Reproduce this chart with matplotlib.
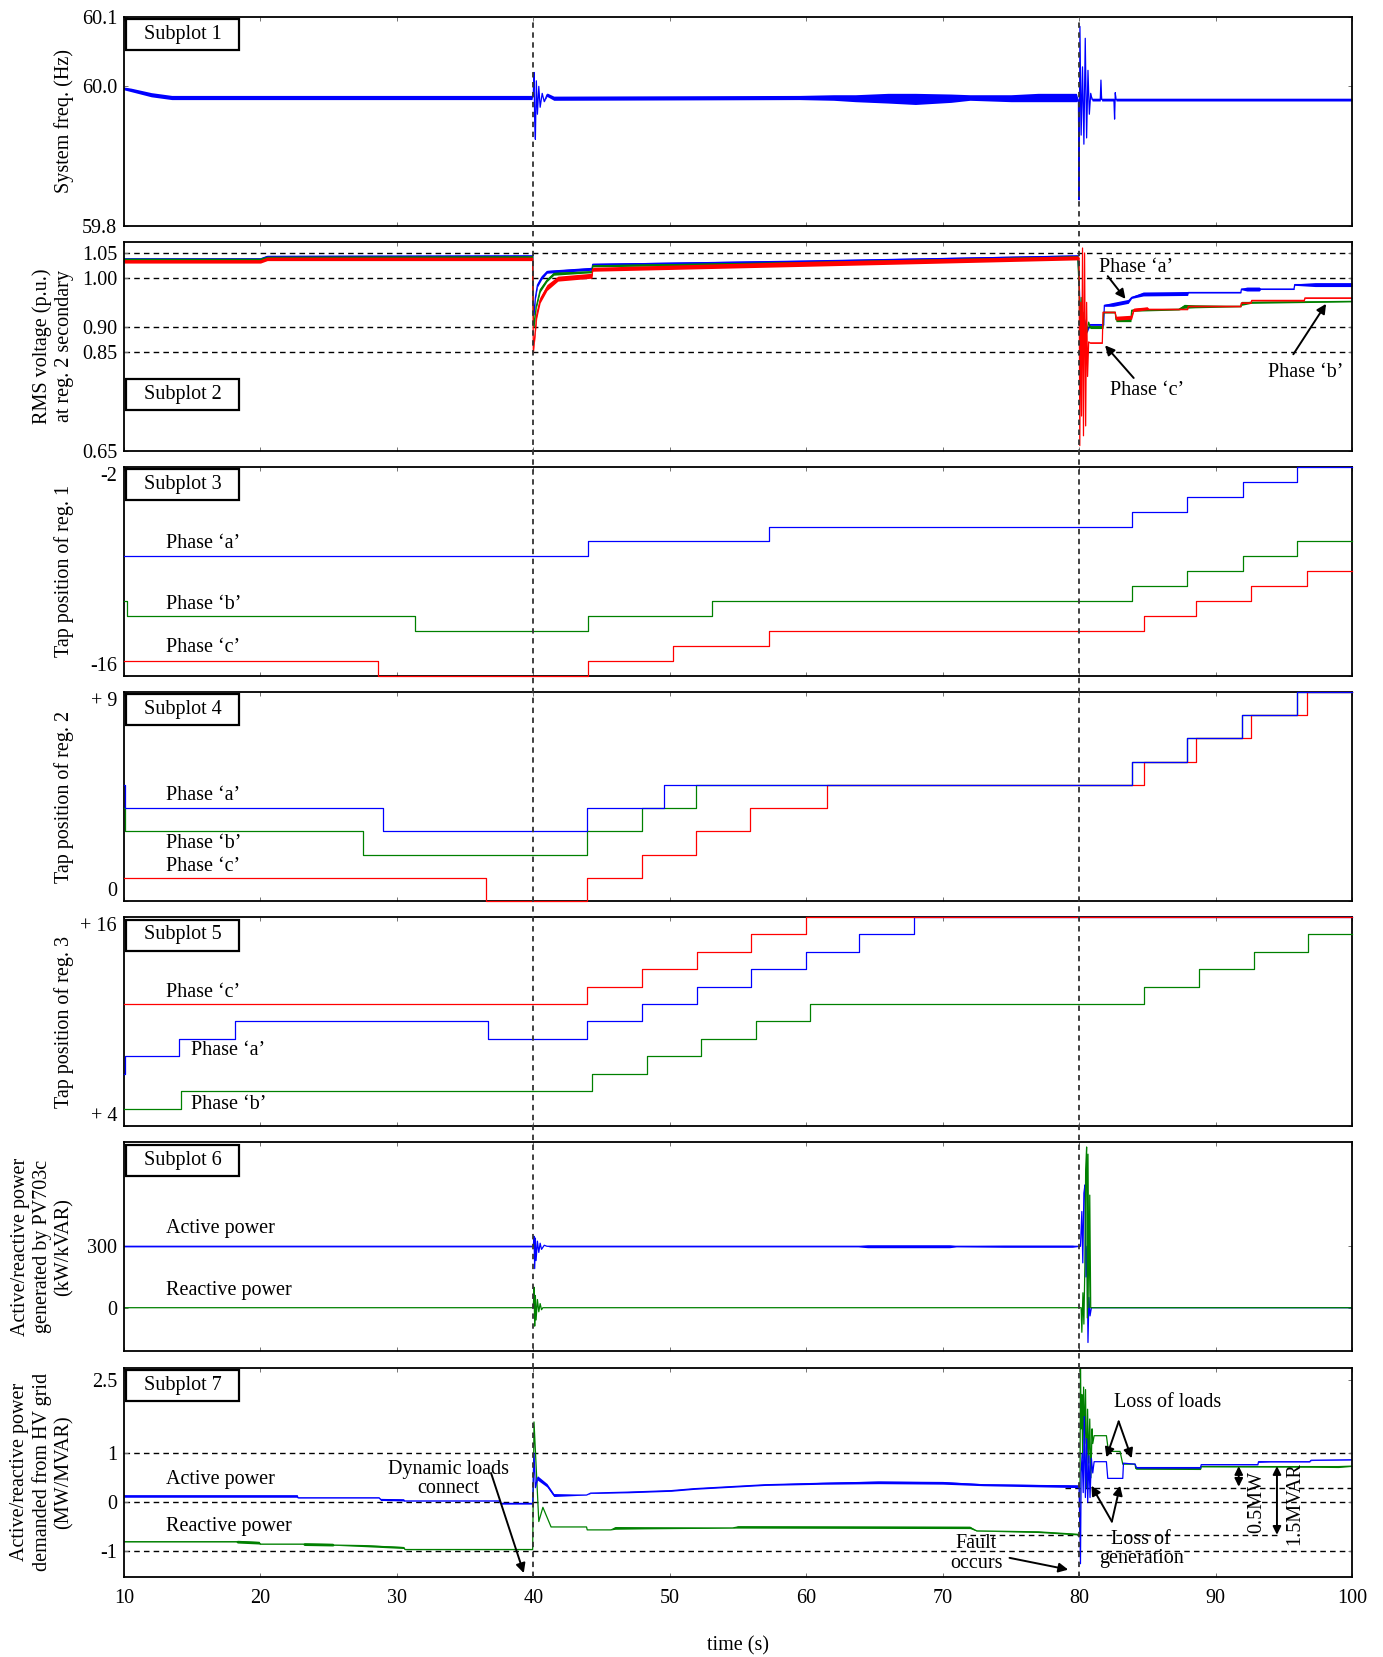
import numpy as np
import matplotlib
matplotlib.use('Agg')
import matplotlib.pyplot as plt
from matplotlib.patches import Rectangle
from matplotlib.lines import Line2D
import matplotlib.transforms as mtrans

plt.rcParams['font.family'] = ['Liberation Serif', 'DejaVu Serif']
plt.rcParams['font.size'] = 14.5

BLUE, GREEN, RED = '#0000ff', '#008000', '#ff0000'

# ---------------- data ----------------
event_times = [40, 80]
x_ticks = list(range(10, 101, 10))

# Subplot 1: system frequency (t, value, noise half-width)
freq = [(10, 59.997, .002), (10.5, 59.995, .0025), (12, 59.988, .003), (13.5, 59.984, .003),
        (39.9, 59.984, .003), (40.0, 59.99, 0), (40.05, 60.020, 0), (40.1, 59.95, 0),
        (40.15, 59.924, 0), (40.22, 60.008, 0), (40.3, 59.96, 0), (40.4, 60.0, 0),
        (40.5, 59.97, 0), (40.65, 59.99, 0), (40.8, 59.978, 0), (41.0, 59.988, .0025),
        (41.5, 59.983, .003), (59.5, 59.984, .003), (62, 59.984, .004), (63.6, 59.983, .005),
        (66, 59.983, .007), (68, 59.982, .008), (70.6, 59.983, .006), (72, 59.984, .004),
        (75, 59.983, .005), (77, 59.984, .006), (79.8, 59.984, .006), (79.95, 59.98, 0),
        (80.0, 59.837, 0), (80.06, 60.086, 0), (80.15, 59.93, 0), (80.25, 60.028, 0),
        (80.35, 59.917, 0), (80.45, 60.069, 0), (80.55, 59.926, 0), (80.65, 60.023, 0),
        (80.75, 59.96, 0), (80.85, 59.99, 0), (80.95, 59.981, .002), (81.55, 59.981, .002),
        (81.6, 60.009, 0), (81.65, 59.981, .002), (82.55, 59.981, .002), (82.6, 59.953, 0),
        (82.65, 59.991, 0), (82.7, 59.981, .002), (100, 59.981, .002)]

# Subplot 2: RMS voltage at reg. 2 secondary (t, value, noise half-width)
volt_a = [(10, 1.038, .002), (20, 1.038, .002), (20.5, 1.043, .002), (39.95, 1.044, .002),
          (40.0, 0.95, 0), (40.05, 0.925, .004), (40.15, 0.96, .004), (40.3, 0.985, .004),
          (40.6, 1.0, .004), (41.0, 1.012, .003), (44.3, 1.018, .003), (44.35, 1.027, .002),
          (60, 1.033, .003), (79.9, 1.044, .002), (80.0, 1.00, 0), (80.05, 0.95, 0),
          (80.1, 0.88, 0), (80.2, 0.93, 0), (80.3, 0.87, 0), (80.4, 0.915, 0), (80.6, 0.89, 0),
          (80.8, 0.905, .0015), (81.8, 0.905, .0015), (81.85, 0.944, .002), (82.5, 0.946, .004),
          (83.6, 0.952, .004), (83.85, 0.96, .002), (84.7, 0.967, .004), (87.95, 0.968, .004),
          (88.0, 0.970, .001), (91.85, 0.970, .001), (91.9, 0.977, .0015), (92.3, 0.977, .004),
          (93.2, 0.977, .004), (93.3, 0.977, .001), (95.75, 0.977, .001), (95.8, 0.986, .0015),
          (97.3, 0.986, .004), (100, 0.986, .004)]
volt_b = [(10, 1.037, .002), (20, 1.037, .002), (20.5, 1.041, .002), (39.95, 1.042, .002),
          (40.0, 0.93, 0), (40.05, 0.90, .003), (40.2, 0.94, .004), (40.5, 0.975, .004),
          (41.0, 0.995, .003), (41.5, 1.008, .003), (44.3, 1.012, .002), (44.35, 1.024, .002),
          (60, 1.030, .003), (79.9, 1.042, .002), (80.0, 0.98, 0), (80.05, 0.90, 0),
          (80.15, 0.96, 0), (80.25, 0.86, 0), (80.35, 0.93, 0), (80.5, 0.88, 0), (80.7, 0.91, 0),
          (80.8, 0.90, .003), (81.75, 0.90, .003), (81.8, 0.93, .0015), (82.65, 0.93, .0015),
          (82.7, 0.915, .004), (83.8, 0.915, .004), (83.85, 0.934, .002), (87.3, 0.936, .0015),
          (87.7, 0.942, .004), (88.5, 0.942, .003), (91.85, 0.942, .001), (91.9, 0.948, .004),
          (92.6, 0.950, .002), (100, 0.952, .001)]
volt_c = [(10, 1.033, .0035), (20, 1.033, .0035), (20.5, 1.038, .0035), (39.95, 1.038, .0035),
          (40.0, 0.848, 0), (40.1, 0.88, .007), (40.25, 0.925, .007), (40.5, 0.955, .006),
          (41.0, 0.98, .006), (41.8, 0.998, .005), (44.3, 1.004, .005), (44.35, 1.017, .004),
          (60, 1.028, .005), (79.9, 1.040, .004), (80.0, 1.04, 0), (80.05, 0.66, 0),
          (80.12, 0.95, 0), (80.18, 0.72, 0), (80.25, 1.06, 0), (80.32, 0.68, 0), (80.4, 1.05, 0),
          (80.48, 0.70, 0), (80.55, 0.95, 0), (80.62, 0.80, 0), (80.7, 0.87, 0),
          (80.8, 0.868, .001), (81.7, 0.868, .001), (81.75, 0.93, .001), (82.65, 0.93, .001),
          (82.7, 0.918, .004), (83.85, 0.92, .004), (84.0, 0.935, .0035), (85.0, 0.938, .003),
          (85.1, 0.936, .001), (87.95, 0.936, .001), (88.0, 0.942, .001), (91.85, 0.942, .001),
          (91.9, 0.949, .001), (92.6, 0.949, .001), (92.65, 0.954, .001), (96.5, 0.954, .0015),
          (96.55, 0.959, .001), (100, 0.959, .001)]

# Subplot 3: tap position of reg. 1 (step changes)
tap1_a_t = [10, 44.0, 57.3, 83.9, 87.9, 92.0, 96.0, 100]
tap1_a_v = [-8, -7, -6, -5, -4, -3, -2, -2]
tap1_b_t = [10, 10.2, 31.3, 44.0, 53.1, 83.9, 87.9, 92.0, 96.0, 100]
tap1_b_v = [-11, -12, -13, -12, -11, -10, -9, -8, -7, -7]
tap1_c_t = [10, 28.6, 44.0, 50.2, 57.3, 84.75, 88.6, 92.6, 96.7, 100]
tap1_c_v = [-15, -16, -15, -14, -13, -12, -11, -10, -9, -9]

# Subplot 4: tap position of reg. 2
tap2_a_t = [10, 10.1, 29.0, 43.9, 49.6, 83.9, 87.9, 91.95, 96.0, 100]
tap2_a_v = [5, 4, 3, 4, 5, 6, 7, 8, 9, 9]
tap2_b_t = [10, 10.1, 27.5, 43.9, 48.0, 51.9, 83.9, 87.9, 91.95, 96.0, 100]
tap2_b_v = [4, 3, 2, 3, 4, 5, 6, 7, 8, 9, 9]
tap2_c_t = [10, 36.5, 43.9, 48.0, 51.9, 55.9, 61.5, 84.75, 88.6, 92.6, 96.7, 100]
tap2_c_v = [1, 0, 1, 2, 3, 4, 5, 6, 7, 8, 9, 9]

# Subplot 5: tap position of reg. 3
tap3_a_t = [10, 10.1, 14.0, 18.1, 36.7, 43.9, 47.96, 51.98, 55.93, 59.96, 63.9, 67.9, 100]
tap3_a_v = [7, 8, 9, 10, 9, 10, 11, 12, 13, 14, 15, 16, 16]
tap3_b_t = [10, 14.2, 44.3, 48.3, 52.3, 56.3, 60.3, 84.75, 88.8, 92.8, 96.8, 100]
tap3_b_v = [5, 6, 7, 8, 9, 10, 11, 12, 13, 14, 15, 15]
tap3_c_t = [10, 43.9, 47.96, 51.98, 55.93, 59.96, 100]
tap3_c_v = [11, 12, 13, 14, 15, 16, 16]

# Subplot 6: PV703c active / reactive power (t, value, noise half-width)
pv_p = [(10, 300, 3), (39.9, 300, 3), (40.0, 300, 0), (40.05, 349, 0), (40.1, 191, 0),
        (40.15, 340, 0), (40.2, 230, 0), (40.3, 325, 0), (40.4, 270, 0), (40.5, 315, 0),
        (40.6, 285, 0), (40.8, 305, 0), (41.0, 300, 0), (41.2, 300, 3), (63.8, 300, 3),
        (64.5, 300, 7), (70.5, 300, 7), (71, 300, 3), (74.5, 300, 5), (79.5, 300, 5),
        (80.1, 300, 0), (80.2, 470, 0), (80.27, 219, 0), (80.35, 560, 0), (80.43, 600, 0),
        (80.5, 150, 0), (80.58, 300, 0), (80.65, -170, 0), (80.72, 50, 0), (80.8, -40, 0),
        (80.9, 0, 0), (100, 0, 0)]
pv_q = [(10, 0, 0), (40.0, 0, 0), (40.05, 100, 0), (40.1, -90, 0), (40.15, 60, 0),
        (40.2, -60, 0), (40.3, 40, 0), (40.4, -20, 0), (40.5, 20, 0), (40.6, -10, 0),
        (40.7, 0, 0), (80.15, 0, 0), (80.2, -120, 0), (80.28, 73, 0), (80.35, -80, 0),
        (80.42, 200, 0), (80.48, 674, 0), (80.55, 785, 0), (80.6, -50, 0), (80.65, 750, 0),
        (80.72, 0, 0), (80.78, 550, 0), (80.85, 0, 0), (100, 0, 0)]

# Subplot 7: HV grid active / reactive power (t, value, noise half-width)
grid_p = [(10, 0.13, .025), (22.7, 0.13, .025), (22.75, 0.095, .004), (28.7, 0.095, .004),
          (28.8, 0.06, .02), (30.5, 0.05, .02), (30.55, 0.03, .003), (37.5, 0.03, .003),
          (37.6, -0.02, .015), (39.95, -0.02, .015), (40.05, 1.0, 0), (40.15, 0.3, 0),
          (40.3, 0.5, .045), (41.0, 0.35, .035), (41.5, 0.15, .03), (43.9, 0.15, 0),
          (44.2, 0.19, .007), (47, 0.21, .014), (50.1, 0.24, .014), (51.8, 0.28, .014),
          (57.0, 0.36, .014), (61.2, 0.39, .02), (65.3, 0.41, .028), (70, 0.40, .028),
          (73, 0.36, .02), (79.9, 0.33, .028), (80.0, 0.33, 0), (80.1, -1.25, 0), (80.15, 0.6, 0),
          (80.22, 1.0, 0), (80.3, 0.2, 0), (80.38, 1.75, 0), (80.46, 0.1, 0), (80.55, 1.3, 0),
          (80.63, 0.0, 0), (80.72, 0.95, 0), (80.8, 0.1, 0), (80.9, 0.9, 0), (81.0, 0.6, 0),
          (81.1, 0.83, 0), (82.0, 0.83, 0), (82.1, 0.49, 0), (83.2, 0.49, 0), (83.25, 0.80, 0),
          (84.1, 0.78, 0), (84.2, 0.71, .01), (88.9, 0.71, .01), (88.95, 0.77, .003),
          (93.1, 0.77, .003), (93.15, 0.83, .014), (94.0, 0.83, .004), (96.9, 0.83, .004),
          (97.0, 0.86, .007), (100, 0.87, .004)]
grid_q = [(10, -0.80, .004), (18.2, -0.80, .004), (18.3, -0.80, .028), (19.9, -0.82, .028),
          (20.0, -0.85, .004), (23.1, -0.85, .004), (23.2, -0.85, .028), (25.3, -0.86, .028),
          (25.4, -0.87, .004), (27.5, -0.88, .02), (30.5, -0.92, .02), (30.6, -0.96, .002),
          (39.95, -0.96, .002), (40.05, 1.64, 0), (40.4, -0.39, 0), (40.7, -0.1, 0),
          (41.3, -0.50, 0), (43.9, -0.50, 0), (43.95, -0.56, 0), (45.7, -0.56, 0),
          (46, -0.52, .028), (48.2, -0.52, .02), (54.6, -0.52, .004), (55, -0.50, .024),
          (72, -0.51, .024), (72.5, -0.58, .004), (77, -0.60, .014), (79.9, -0.65, .014),
          (80.05, -0.65, 0), (80.1, 2.75, 0), (80.15, 1.5, 0), (80.2, 2.2, 0), (80.26, 0.9, 0),
          (80.33, 2.35, 0), (80.4, 1.2, 0), (80.47, 2.3, 0), (80.55, 0.3, 0), (80.62, 1.9, 0),
          (80.7, 0.8, 0), (80.78, 1.7, 0), (80.86, 0.5, 0), (80.95, 1.5, 0), (81.0, 1.2, 0),
          (81.1, 1.36, 0), (82.0, 1.36, 0), (82.15, 1.04, 0), (83.0, 1.04, 0), (83.2, 0.78, 0),
          (84.1, 0.78, 0), (84.15, 0.69, .014), (88.9, 0.69, .02), (88.95, 0.73, .004),
          (97, 0.73, .014), (99, 0.73, .02), (100, 0.74, .007)]

# ---------------- figure ----------------
W, H = 1383, 1657
fig = plt.figure(figsize=(W / 100, H / 100), dpi=100)
left_px, width_px, ax_h_px = 124, 1228, 209
tops = [16.7, 241.6, 466.8, 692.0, 917.0, 1142.3, 1367.5]
axes = []
for top in tops:
    ax = fig.add_axes([left_px / W, 1 - (top + ax_h_px) / H, width_px / W, ax_h_px / H],
                      sharex=axes[0] if axes else None)
    axes.append(ax)
ax1, ax2, ax3, ax4, ax5, ax6, ax7 = axes


def trace(ax, pts, color, lw=0.9, z=2):
    t = np.array([p[0] for p in pts], float)
    v = np.array([p[1] for p in pts], float)
    a = np.array([p[2] for p in pts], float)
    if a.max() > 0:
        ax.fill_between(t, v - a, v + a, color=color, lw=0, zorder=z)
    ax.plot(t, v, color=color, lw=lw, zorder=z)


def hdash(ax, y, x0=None, x1=None):
    if x0 is None:
        ax.axhline(y, color='k', lw=1.0, ls=(0, (4, 3)), zorder=1)
    else:
        ax.plot([x0, x1], [y, y], color='k', lw=1.0, ls=(0, (4, 3)), zorder=1)


def box(ax, n, top_off_px=2.5):
    w = 113 / width_px
    h = 31 / ax_h_px
    y0 = 1 - (top_off_px + 31) / ax_h_px
    ax.add_patch(Rectangle((0.002, y0), w, h, transform=ax.transAxes, facecolor='white',
                           edgecolor='k', lw=1.6, zorder=6))
    ax.text(0.002 + w / 2, y0 + h / 2, f'Subplot {n}', transform=ax.transAxes,
            ha='center', va='center', zorder=7)


arrow_kw = dict(arrowstyle='-|>', color='k', lw=1.4, mutation_scale=14, shrinkA=0, shrinkB=0)
darrow_kw = dict(arrowstyle='<|-|>', color='k', lw=1.4, mutation_scale=12, shrinkA=0, shrinkB=0)

# Subplot 1
trace(ax1, freq, BLUE)
ax1.set_ylim(59.8, 60.1)
ax1.set_yticks([59.8, 60.0, 60.1])
ax1.set_yticklabels(['59.8', '60.0', '60.1'])
ax1.set_ylabel('System freq. (Hz)')
box(ax1, 1)

# Subplot 2
for y in [1.05, 1.00, 0.90, 0.85]:
    hdash(ax2, y)
trace(ax2, volt_a, BLUE)
trace(ax2, volt_b, GREEN)
trace(ax2, volt_c, RED)
ax2.set_ylim(0.65, 1.073)
ax2.set_yticks([0.65, 0.85, 0.90, 1.00, 1.05])
ax2.set_yticklabels(['0.65', '0.85', '0.90', '1.00', '1.05'])
ax2.set_ylabel('RMS voltage (p.u.)\nat reg. 2 secondary')
box(ax2, 2, top_off_px=137.7)
ax2.text(84.2, 1.021, 'Phase \u2018a\u2019', ha='center', va='center', zorder=8)
ax2.annotate('', xy=(83.4, 0.957), xytext=(82.1, 1.003), arrowprops=arrow_kw, zorder=8)
ax2.text(85.0, 0.771, 'Phase \u2018c\u2019', ha='center', va='center', zorder=8)
ax2.annotate('', xy=(81.9, 0.863), xytext=(84.0, 0.797), arrowprops=arrow_kw, zorder=8)
ax2.text(96.6, 0.808, 'Phase \u2018b\u2019', ha='center', va='center', zorder=8)
ax2.annotate('', xy=(98.1, 0.947), xytext=(95.7, 0.845), arrowprops=arrow_kw, zorder=8)

# Subplots 3-5
def taps(ax, tv, lw=0.9):
    for t, v, c in tv:
        ax.step(t, v, where='post', color=c, lw=lw, zorder=3, clip_on=False)

taps(ax3, [(tap1_a_t, tap1_a_v, BLUE), (tap1_b_t, tap1_b_v, GREEN), (tap1_c_t, tap1_c_v, RED)])
ax3.set_ylim(-16, -2)
ax3.set_yticks([-16, -2])
ax3.set_yticklabels(['-16', '-2'])
ax3.set_ylabel('Tap position of reg. 1')
box(ax3, 3)
ax3.text(13.1, -7.12, 'Phase \u2018a\u2019', va='center')
ax3.text(13.1, -11.24, 'Phase \u2018b\u2019', va='center')
ax3.text(13.1, -14.08, 'Phase \u2018c\u2019', va='center')

taps(ax4, [(tap2_c_t, tap2_c_v, RED), (tap2_b_t, tap2_b_v, GREEN), (tap2_a_t, tap2_a_v, BLUE)])
ax4.set_ylim(0, 9)
ax4.set_yticks([0, 9])
ax4.set_yticklabels(['0', '+ 9'])
ax4.set_ylabel('Tap position of reg. 2')
box(ax4, 4)
ax4.text(13.1, 4.54, 'Phase \u2018a\u2019', va='center')
ax4.text(13.1, 2.47, 'Phase \u2018b\u2019', va='center')
ax4.text(13.1, 1.48, 'Phase \u2018c\u2019', va='center')

taps(ax5, [(tap3_a_t, tap3_a_v, BLUE), (tap3_b_t, tap3_b_v, GREEN), (tap3_c_t, tap3_c_v, RED)])
ax5.set_ylim(4, 16)
ax5.set_yticks([4, 16])
ax5.set_yticklabels(['+ 4', '+ 16'])
ax5.set_ylabel('Tap position of reg. 3')
box(ax5, 5)
ax5.text(13.1, 11.68, 'Phase \u2018c\u2019', va='center')
ax5.text(14.9, 8.33, 'Phase \u2018a\u2019', va='center')
ax5.text(14.9, 5.22, 'Phase \u2018b\u2019', va='center')

for ax in (ax3, ax4, ax5):
    labs = ax.get_yticklabels()
    labs[-1].set_va('top')
    labs[0].set_va('bottom')

# Subplot 6
trace(ax6, pv_p, BLUE)
trace(ax6, pv_q, GREEN)
ax6.set_ylim(-213, 808)
ax6.set_yticks([0, 300])
ax6.set_yticklabels(['0', '300'])
ax6.set_ylabel('Active/reactive power\ngenerated by PV703c\n(kW/kVAR)')
box(ax6, 6)
ax6.text(13.1, 388, 'Active power', va='center')
ax6.text(13.1, 84, 'Reactive power', va='center')

# Subplot 7
for y in [1, 0, -1]:
    hdash(ax7, y)
hdash(ax7, 0.3, 79, 100)
hdash(ax7, -0.66, 72, 94.5)
trace(ax7, grid_q, GREEN)
trace(ax7, grid_p, BLUE)
ax7.set_ylim(-1.51, 2.75)
ax7.set_yticks([-1, 0, 1, 2.5])
ax7.set_yticklabels(['-1', '0', '1', '2.5'])
ax7.set_ylabel('Active/reactive power\ndemanded from HV grid\n(MW/MVAR)')
box(ax7, 7)
ax7.text(13.1, 0.47, 'Active power', va='center')
ax7.text(13.1, -0.49, 'Reactive power', va='center')
ax7.text(33.8, 0.48, 'Dynamic loads\nconnect', ha='center', va='center', linespacing=1.05, zorder=8)
ax7.annotate('', xy=(39.3, -1.44), xytext=(36.9, 0.6), arrowprops=arrow_kw, zorder=8)
ax7.text(72.45, -1.04, 'Fault\noccurs', ha='center', va='center', linespacing=1.05, zorder=8)
ax7.annotate('', xy=(79.2, -1.37), xytext=(74.9, -1.13), arrowprops=arrow_kw, zorder=8)
ax7.text(86.5, 2.03, 'Loss of loads', ha='center', va='center', zorder=8)
ax7.annotate('', xy=(82.0, 0.92), xytext=(82.9, 1.65), arrowprops=arrow_kw, zorder=8)
ax7.annotate('', xy=(83.85, 0.90), xytext=(82.9, 1.65), arrowprops=arrow_kw, zorder=8)
ax7.text(84.55, -0.95, 'Loss of\ngeneration', ha='center', va='center', linespacing=1.05, zorder=8)
ax7.annotate('', xy=(80.9, 0.34), xytext=(82.4, -0.39), arrowprops=arrow_kw, zorder=8)
ax7.annotate('', xy=(83.0, 0.34), xytext=(82.4, -0.39), arrowprops=arrow_kw, zorder=8)
ax7.annotate('', xy=(91.7, 0.32), xytext=(91.7, 0.74), arrowprops=darrow_kw, zorder=8)
ax7.text(93.0, 0.01, '0.5MW', rotation=90, ha='center', va='center', zorder=8)
ax7.annotate('', xy=(94.5, -0.66), xytext=(94.5, 0.74), arrowprops=darrow_kw, zorder=8)
ax7.text(95.8, -0.02, '1.5MVAR', rotation=90, ha='center', va='center', zorder=8)

# common axis styling
for ax in axes:
    ax.set_xlim(10, 100)
    ax.set_xticks(x_ticks)
    ax.tick_params(direction='in', length=3, width=0.7, color='0.45', top=True, right=True,
                   labelsize=14.5, pad=5)
    for s in ax.spines.values():
        s.set_linewidth(1.3)
    ax.yaxis.set_label_coords(-0.041, 0.5)
for ax in axes[:-1]:
    ax.tick_params(labelbottom=False)
ax7.tick_params(axis='x', pad=9)
ax7.set_xticklabels([str(x) for x in x_ticks])
ax7.set_xlabel('time (s)', labelpad=20)

# vertical event lines spanning all subplots
trans = mtrans.blended_transform_factory(ax7.transData, fig.transFigure)
y_top = 1 - tops[0] / H
y_bot = 1 - (tops[-1] + ax_h_px) / H
for te in event_times:
    fig.add_artist(Line2D([te, te], [y_bot, y_top], transform=trans, color='0.2',
                          lw=1.3, ls=(0, (3, 2.5)), zorder=10))

fig.savefig('out.png', dpi=100)
